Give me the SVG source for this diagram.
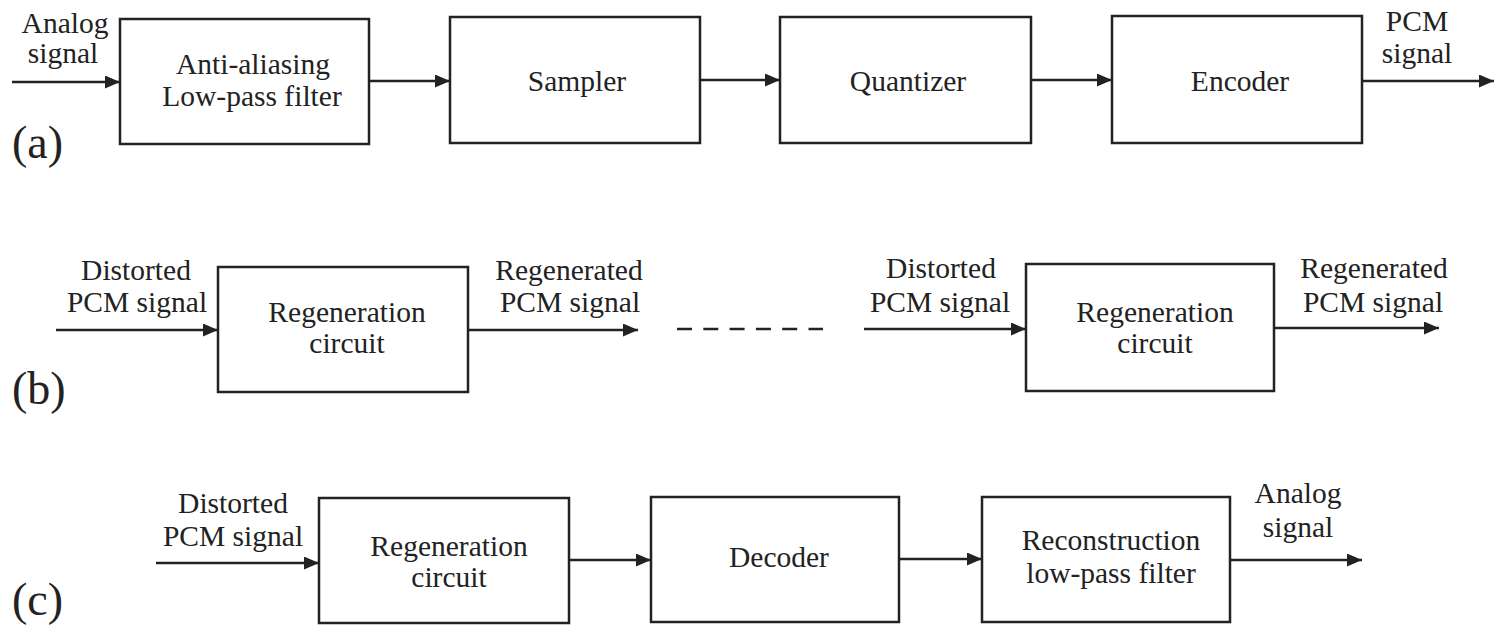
<svg xmlns="http://www.w3.org/2000/svg" width="1495" height="627" viewBox="0 0 1495 627">
<style>
.box{fill:#fff;stroke:#222;stroke-width:2.5}
.t{font-family:'Liberation Serif','Times New Roman','DejaVu Serif',serif;font-size:29.5px;fill:#222;text-anchor:middle}
.lab{font-family:'Liberation Serif','Times New Roman','DejaVu Serif',serif;font-size:46px;fill:#222}
.ln{stroke:#222;stroke-width:2.5;fill:none}
.dash{stroke:#222;stroke-width:2.5;stroke-dasharray:15 11.3;fill:none}
</style>
<defs>
<marker id="ah" markerUnits="userSpaceOnUse" markerWidth="15" markerHeight="13" refX="15" refY="6.5" orient="auto">
<path d="M0,0 L15,6.5 L0,13 z" fill="#222"/>
</marker>
</defs>
<rect width="1495" height="627" fill="#fff"/>

<g id="connectors">
<line class="ln" x1="12" y1="82" x2="120" y2="82" marker-end="url(#ah)"/>
<line class="ln" x1="369" y1="81" x2="450" y2="81" marker-end="url(#ah)"/>
<line class="ln" x1="700" y1="80" x2="780" y2="80" marker-end="url(#ah)"/>
<line class="ln" x1="1031" y1="80" x2="1112" y2="80" marker-end="url(#ah)"/>
<line class="ln" x1="1362" y1="81" x2="1494" y2="81" marker-end="url(#ah)"/>

<line class="ln" x1="56" y1="330" x2="218" y2="330" marker-end="url(#ah)"/>
<line class="ln" x1="468" y1="330" x2="638" y2="330" marker-end="url(#ah)"/>
<line class="dash" x1="677" y1="329" x2="823" y2="329"/>
<line class="ln" x1="864" y1="329" x2="1026" y2="329" marker-end="url(#ah)"/>
<line class="ln" x1="1274" y1="328" x2="1439" y2="328" marker-end="url(#ah)"/>

<line class="ln" x1="156" y1="563" x2="319" y2="563" marker-end="url(#ah)"/>
<line class="ln" x1="569" y1="560" x2="651" y2="560" marker-end="url(#ah)"/>
<line class="ln" x1="899" y1="559" x2="982" y2="559" marker-end="url(#ah)"/>
<line class="ln" x1="1230" y1="560" x2="1362" y2="560" marker-end="url(#ah)"/>
</g>

<g id="labels" font-family="Liberation Serif, serif">
<text class="t" x="65" y="33">Analog</text>
<text class="t" x="63" y="63">signal</text>
<text class="t" x="1417" y="31">PCM</text>
<text class="t" x="1417" y="63">signal</text>
<text class="t" x="136" y="280">Distorted</text>
<text class="t" x="137" y="312">PCM signal</text>
<text class="t" x="569" y="280">Regenerated</text>
<text class="t" x="570" y="312">PCM signal</text>
<text class="t" x="941" y="278">Distorted</text>
<text class="t" x="940" y="312">PCM signal</text>
<text class="t" x="1374" y="278">Regenerated</text>
<text class="t" x="1373" y="312">PCM signal</text>
<text class="t" x="233" y="513">Distorted</text>
<text class="t" x="233" y="546">PCM signal</text>
<text class="t" x="1298" y="503">Analog</text>
<text class="t" x="1298" y="537">signal</text>
<text class="lab" x="12" y="158">(a)</text>
<text class="lab" x="12" y="404">(b)</text>
<text class="lab" x="12" y="615">(c)</text>
</g>

<g id="antialias">
<rect class="box" x="120" y="19" width="249" height="125"/>
<text class="t" x="253" y="74">Anti-aliasing</text>
<text class="t" x="252" y="106">Low-pass filter</text>
</g>
<g id="sampler">
<rect class="box" x="450" y="17" width="250" height="126"/>
<text class="t" x="577" y="91">Sampler</text>
</g>
<g id="quantizer">
<rect class="box" x="780" y="17" width="251" height="126"/>
<text class="t" x="908" y="91">Quantizer</text>
</g>
<g id="encoder">
<rect class="box" x="1112" y="16" width="250" height="127"/>
<text class="t" x="1240" y="91">Encoder</text>
</g>

<g id="regen1">
<rect class="box" x="218" y="267" width="250" height="125"/>
<text class="t" x="347" y="322">Regeneration</text>
<text class="t" x="347" y="353">circuit</text>
</g>
<g id="regen2">
<rect class="box" x="1026" y="264" width="248" height="127"/>
<text class="t" x="1155" y="322">Regeneration</text>
<text class="t" x="1155" y="353">circuit</text>
</g>

<g id="regen3">
<rect class="box" x="319" y="498" width="250" height="125"/>
<text class="t" x="449" y="556">Regeneration</text>
<text class="t" x="449" y="587">circuit</text>
</g>
<g id="decoder">
<rect class="box" x="651" y="497" width="248" height="125"/>
<text class="t" x="779" y="567">Decoder</text>
</g>
<g id="reconstruction">
<rect class="box" x="982" y="497" width="248" height="125"/>
<text class="t" x="1111" y="550">Reconstruction</text>
<text class="t" x="1111" y="583">low-pass filter</text>
</g>
</svg>
